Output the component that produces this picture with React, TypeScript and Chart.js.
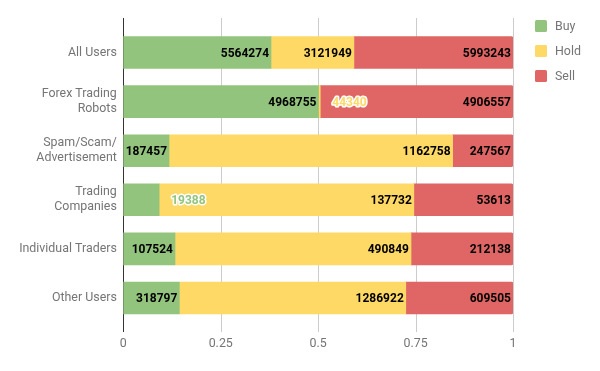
import React, { useEffect, useRef } from "react";
import { Chart, registerables } from "chart.js";

Chart.register(...registerables);

const categories: (string | string[])[] = [
  "All Users",
  ["Forex Trading", "Robots"],
  ["Spam/Scam/", "Advertisement"],
  ["Trading", "Companies"],
  "Individual Traders",
  "Other Users",
];
const buyValues = [5564274, 4968755, 187457, 19388, 107524, 318797];
const holdValues = [3121949, 44340, 1162758, 137732, 490849, 1286922];
const sellValues = [5993243, 4906557, 247567, 53613, 212138, 609505];
const seriesNames = ["Buy", "Hold", "Sell"];
const seriesColors = ["#93c47d", "#ffd966", "#e06666"];
const xTickLabels = ["0", "0.25", "0.5", "0.75", "1"];

const rawSeries = [buyValues, holdValues, sellValues];
const totals = categories.map((_, i) => buyValues[i] + holdValues[i] + sellValues[i]);

const FONT = "Roboto";
const LABEL_SIZE = 12.4;

const gridPlugin = {
  id: "customGrid",
  beforeDatasetsDraw(chart: any) {
    const ctx = chart.ctx;
    const xs = chart.scales.x;
    ctx.save();
    ctx.lineWidth = 1;
    xs.ticks.forEach((t: any) => {
      const px = Math.round(xs.getPixelForValue(t.value)) + 0.5;
      ctx.strokeStyle = t.value === 0 ? "#333333" : "#cccccc";
      ctx.beginPath();
      ctx.moveTo(px, 18);
      ctx.lineTo(px, 332);
      ctx.stroke();
    });
    ctx.restore();
  },
};

const labelPlugin = {
  id: "valueLabels",
  afterDatasetsDraw(chart: any) {
    const ctx = chart.ctx;
    ctx.save();
    ctx.font = `bold 12px ${FONT}`;
    ctx.textBaseline = "middle";
    chart.data.datasets.forEach((ds: any, di: number) => {
      const meta = chart.getDatasetMeta(di);
      meta.data.forEach((bar: any, i: number) => {
        const text = String(rawSeries[di][i]);
        const { x, base, y } = bar.getProps(["x", "base", "y"], true);
        const segW = x - base;
        const tw = ctx.measureText(text).width;
        if (tw + 4 <= segW) {
          ctx.textAlign = "right";
          ctx.fillStyle = "#000000";
          ctx.fillText(text, x - 2, y + 1);
        } else {
          ctx.textAlign = "left";
          ctx.lineJoin = "round";
          ctx.lineWidth = 3;
          ctx.strokeStyle = "#ffffff";
          ctx.strokeText(text, x + 12, y + 1);
          ctx.fillStyle = ds.backgroundColor;
          ctx.fillText(text, x + 12, y + 1);
        }
      });
    });
    ctx.restore();
  },
};

const legendPlugin = {
  id: "customLegend",
  afterDraw(chart: any) {
    const ctx = chart.ctx;
    ctx.save();
    ctx.font = `${LABEL_SIZE}px ${FONT}`;
    ctx.textBaseline = "middle";
    ctx.textAlign = "left";
    seriesNames.forEach((name, i) => {
      const top = 20 + i * 25;
      ctx.fillStyle = seriesColors[i];
      ctx.beginPath();
      (ctx as any).roundRect ? (ctx as any).roundRect(535, top, 12, 12, 1.5) : ctx.rect(535, top, 12, 12);
      ctx.fill();
      ctx.fillStyle = "#757575";
      ctx.fillText(name, 555, top + 6.5);
    });
    ctx.restore();
  },
};

export default function App() {
  const ref = useRef<HTMLCanvasElement | null>(null);
  useEffect(() => {
    document.body.style.margin = "0";
    if (!ref.current) return;
    const chart = new Chart(ref.current, {
      type: "bar",
      data: {
        labels: categories,
        datasets: rawSeries.map((vals, di) => ({
          label: seriesNames[di],
          data: vals.map((v, i) => v / totals[i]),
          backgroundColor: seriesColors[di],
          borderWidth: 0,
          barThickness: 32,
          borderRadius: di === 2 ? 2 : 0,
        })),
      },
      options: {
        indexAxis: "y",
        responsive: false,
        animation: false,
        devicePixelRatio: 1,
        layout: { padding: { top: 28, right: 87, left: 0, bottom: 0 } },
        plugins: { legend: { display: false }, tooltip: { enabled: false } },
        scales: {
          x: {
            stacked: true,
            min: 0,
            max: 1,
            grid: { display: false, drawTicks: false },
            border: { display: false },
            ticks: {
              stepSize: 0.25,
              padding: 14,
              color: "#757575",
              font: { family: FONT, size: LABEL_SIZE },
              callback: (_v: any, idx: number) => xTickLabels[idx],
            },
            afterFit: (s: any) => {
              s.height = 48.5;
            },
          },
          y: {
            stacked: true,
            grid: { display: false, drawTicks: false },
            border: { display: false },
            ticks: {
              padding: 6.5,
              color: "#757575",
              font: { family: FONT, size: LABEL_SIZE, lineHeight: 1.2 },
            },
            afterFit: (s: any) => {
              s.width = 123.3;
            },
          },
        },
      },
      plugins: [gridPlugin, labelPlugin, legendPlugin],
    } as any);
    return () => chart.destroy();
  }, []);
  return <canvas ref={ref} width={600} height={371} style={{ display: "block" }} />;
}
